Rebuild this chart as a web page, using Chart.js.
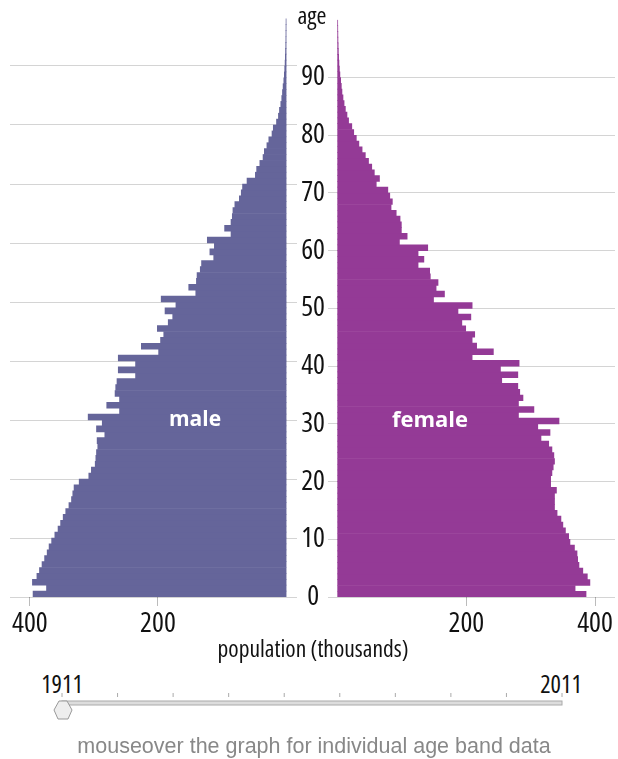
<!DOCTYPE html>
<html><head><meta charset="utf-8">
<script src="https://cdn.jsdelivr.net/npm/chart.js@4.4.1/dist/chart.umd.min.js"></script>
<style>
html,body{margin:0;padding:0;background:#fff;}
#wrap{position:relative;width:618px;height:759px;overflow:hidden;font-family:'Open Sans',sans-serif;}
canvas{position:absolute;top:0;}
.t{position:absolute;white-space:nowrap;transform:translate(-50%,-50%);line-height:1;}
</style></head><body>
<div id="wrap">
<canvas id="m" width="297" height="640" style="left:0;width:297px;height:640px"></canvas>
<canvas id="f" width="321" height="640" style="left:297px;width:321px;height:640px"></canvas>
<div class="t num" data-k="age" style="left:312px;top:15px;color:#111">age</div>
<div class="t" style="left:195px;top:418px;font-size:21px;color:#fff;font-weight:bold">male</div>
<div class="t" style="left:430px;top:418px;font-size:22px;color:#fff;font-weight:bold">female</div>
<div class="t num" data-k="pop" style="left:313px;top:649px;color:#111">population (thousands)</div>
<div class="t num" data-k="yr" style="left:62px;top:684px;color:#111">1911</div>
<div class="t num" data-k="yr" style="left:561px;top:684px;color:#111">2011</div>
<svg style="position:absolute;left:0;top:0" width="618" height="759">
  <g id="ticks" stroke="#aaa" stroke-width="1"></g>
  <rect x="62" y="701" width="500" height="4" fill="#ddd" stroke="#aaa" stroke-width="1"/>
  <path d="M59 701 L67 701 L72 710 L68 719 L58 719 L54 710 Z" fill="#eee" stroke="#999" stroke-width="1"/>
</svg>
<div class="t" style="left:314px;top:747px;font-size:21.5px;color:#888;font-family:'Liberation Sans',Arial,sans-serif">mouseover the graph for individual age band data</div>
</div>
<script>
// ---- data (1911, thousands) ----
const ages = [0,1,2,3,4,5,6,7,8,9,10,11,12,13,14,15,16,17,18,19,20,21,22,23,24,25,26,27,28,29,30,31,32,33,34,35,36,37,38,39,40,41,42,43,44,45,46,47,48,49,50,51,52,53,54,55,56,57,58,59,60,61,62,63,64,65,66,67,68,69,70,71,72,73,74,75,76,77,78,79,80,81,82,83,84,85,86,87,88,89,90,91,92,93,94,95,96,97,98,99];
const male = [395,374,396,389,385,381,377,373,370,366,361,356,352,348,344,339,335,333,331,323,308,304,298,297,296,294,295,283,296,287,309,260,280,260,267,266,264,235,262,235,262,199,226,196,191,201,184,177,189,172,195,141,152,140,139,134,132,113,119,112,123,86,96,86,84,83,80,73,70,68,61,48,46,41,36,34,30,27,22,20,15,12,10.4,8.3,6.8,5.7,4.7,3.6,2.8,2.2,1.6,1.2,0.9,0.6,0.4,0.3,0.2,0.1,null,null];
const female = [386,369,392,388,381,375,373,372,368,361,359,354,350,347,341,337,337,337,340,331,331,333,335,337,336,333,328,316,330,311,344,281,305,281,288,283,280,255,280,253,282,209,242,216,209,213,199,193,207,187,209,149,166,153,156,144,143,125,134,125,140,96,108,99,99,97,91,83,85,81,78,60,65,57,53,48,43,38,33,29,25,22,17,14.5,12,10,8.3,6.7,5.7,4.7,3.5,2.7,2.0,1.5,1.1,0.8,0.5,0.35,0.2,0.1];
const ageTicks = [0,10,20,30,40,50,60,70,80,90];
const popTicks = [200,400];

// pick a narrow face for the numeric labels
const mctx = document.createElement('canvas').getContext('2d');
function wid(f){ mctx.font = f; return mctx.measureText('400 population 1911').width; }
function has(fam){ return Math.abs(wid('100px ' + fam + ', monospace') - wid('100px monospace')) > 0.5; }
let NUM = { family: "'DejaVu Sans Condensed', 'Open Sans', sans-serif", stretch: 'normal',
            sz: { tick: 24, age: 24, ageT: 20, pop: 19, yr: 19 } };
const narrowSizes = { tick: 28, age: 28, ageT: 24, pop: 23.5, yr: 24.5 };
if (wid("condensed 100px 'Open Sans'") < wid("100px 'Open Sans'") - 8)
  NUM = { family: "'Open Sans'", stretch: 'condensed', sz: narrowSizes };
else if (wid("condensed 100px 'Noto Sans'") < wid("100px 'Noto Sans'") - 8)
  NUM = { family: "'Noto Sans'", stretch: 'condensed', sz: narrowSizes };
else if (has("'Liberation Sans Narrow'"))
  NUM = { family: "'Liberation Sans Narrow'", stretch: 'normal', sz: narrowSizes };
document.querySelectorAll('.num').forEach(el => {
  el.style.fontFamily = NUM.family; el.style.fontStretch = NUM.stretch;
  const k = el.dataset.k;
  el.style.fontSize = (k === 'age' ? NUM.sz.ageT : k === 'pop' ? NUM.sz.pop : NUM.sz.yr) + 'px';
});

// slider tick marks
(function(){
  const g = document.getElementById('ticks');
  const n = 10;
  for (let i = 0; i < n; i++) {
    const x = 62 + i * 500 / (n - 1);
    const l = document.createElementNS('http://www.w3.org/2000/svg','line');
    l.setAttribute('x1', x); l.setAttribute('x2', x);
    l.setAttribute('y1', 693); l.setAttribute('y2', 697);
    g.appendChild(l);
  }
})();

const pts = arr => ages.map((a, i) => ({ x: arr[i], y: a + 0.5 }));
// font-stretch keyword goes in the weight slot of the canvas font string
const numFont = size => ({ family: NUM.family, weight: NUM.stretch, size: size });

function yScale(showLabels) {
  return {
    type: 'linear', min: 0, max: 100, z: 1, offset: false,
    afterBuildTicks: s => { s.ticks = ageTicks.map(v => ({ value: v })); },
    afterFit: s => { s.width = showLabels ? 31 : 0; },
    position: showLabels ? 'left' : 'right',
    grid: { color: 'rgba(0,0,0,0.17)', lineWidth: 1, drawTicks: false, offset: false },
    border: { display: false },
    ticks: { display: showLabels, padding: 3, crossAlign: 'center', color: '#111',
             font: numFont(NUM.sz.age) }
  };
}
function xScale(rev, minV) {
  return {
    type: 'linear', min: minV, max: 431, reverse: rev, offset: false,
    afterBuildTicks: s => { s.ticks = popTicks.map(v => ({ value: v })); },
    afterFit: s => { s.height = 43; },
    grid: { drawOnChartArea: false, drawTicks: true, tickLength: 9, color: '#bbb', offset: false },
    border: { display: false },
    ticks: { padding: 1, maxRotation: 0, color: '#111', font: numFont(NUM.sz.tick) }
  };
}
function makeChart(id, data, color, rev, minV, showLabels, pad) {
  return new Chart(document.getElementById(id), {
    type: 'bar',
    data: { datasets: [{ data: pts(data), backgroundColor: color, borderWidth: 0,
                         barPercentage: 1, categoryPercentage: 1 }] },
    options: {
      indexAxis: 'y', responsive: false, animation: false,
      layout: { padding: pad },
      plugins: { legend: { display: false }, tooltip: { enabled: false } },
      scales: { x: xScale(rev, minV), y: yScale(showLabels) }
    }
  });
}
makeChart('m', male, '#65659a', true, -17, false, { left: 10, right: 0, top: 7, bottom: 0 });
makeChart('f', female, '#943a96', false, -15, true, { left: 0, right: 3, top: 7, bottom: 0 });
</script>
</body></html>
